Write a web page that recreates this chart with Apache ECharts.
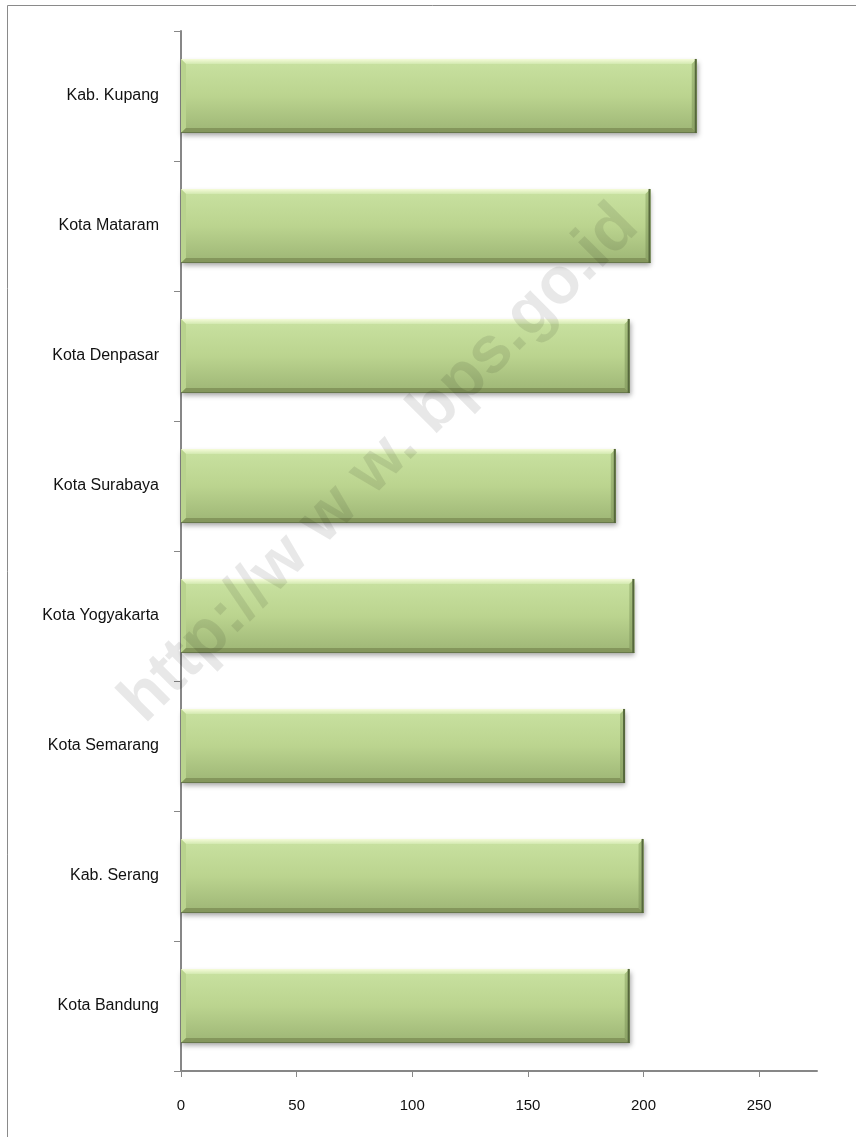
<!DOCTYPE html>
<html>
<head>
<meta charset="utf-8">
<script src="https://cdn.jsdelivr.net/npm/echarts@6/dist/echarts.min.js"></script>
<style>
  html, body { margin: 0; padding: 0; background: #ffffff; }
  #chart { width: 856px; height: 1137px; }
</style>
</head>
<body>
<div id="chart"></div>
<script>
// Regions, listed top to bottom
const categories = ['Kab. Kupang', 'Kota Mataram', 'Kota Denpasar', 'Kota Surabaya',
                    'Kota Yogyakarta', 'Kota Semarang', 'Kab. Serang', 'Kota Bandung'];
const values = [223, 203, 194, 188, 196, 192, 200, 194];
const xTicks = [0, 50, 100, 150, 200, 250];
const xMax = 275;
const watermark = 'http://w w w. bps.go.id';

const chart = echarts.init(document.getElementById('chart'), null, { renderer: 'canvas' });

// Bevelled bar: body with gradient, four bevel facets, dark right/bottom edge
function renderBar(params, api) {
  const cat = api.value(1);
  const start = api.coord([0, cat]);
  const end = api.coord([api.value(0), cat]);
  const h = api.size([0, 1])[1] * 0.57;
  const x0 = start[0], x1 = end[0];
  const y0 = start[1] - h / 2, y1 = start[1] + h / 2;
  const b = 5;
  return {
    type: 'group',
    children: [
      {
        type: 'rect',
        shape: { x: x0, y: y0, width: x1 - x0, height: h },
        style: {
          fill: new echarts.graphic.LinearGradient(0, 0, 0, 1, [
            { offset: 0, color: '#c9e2a1' },
            { offset: 0.5, color: '#bbd48f' },
            { offset: 1, color: '#9db575' }
          ]),
          shadowColor: 'rgba(0,0,0,0.35)', shadowBlur: 5, shadowOffsetX: 1, shadowOffsetY: 3
        }
      },
      { // top facet
        type: 'polygon',
        shape: { points: [[x0, y0], [x1, y0], [x1 - b, y0 + b], [x0 + b, y0 + b]] },
        style: {
          fill: new echarts.graphic.LinearGradient(0, 0, 0, 1, [
            { offset: 0, color: '#f6fcda' },
            { offset: 1, color: '#d3e9b0' }
          ])
        }
      },
      { // left facet
        type: 'polygon',
        shape: { points: [[x0, y0], [x0 + b, y0 + b], [x0 + b, y1 - b], [x0, y1]] },
        style: { fill: '#b9d38e' }
      },
      { // right facet
        type: 'polygon',
        shape: { points: [[x1, y0], [x1, y1], [x1 - b, y1 - b], [x1 - b, y0 + b]] },
        style: {
          fill: new echarts.graphic.LinearGradient(0, 0, 0, 1, [
            { offset: 0, color: '#a9c381' },
            { offset: 1, color: '#8ba265' }
          ])
        }
      },
      { // bottom facet
        type: 'polygon',
        shape: { points: [[x0, y1], [x1, y1], [x1 - b, y1 - b], [x0 + b, y1 - b]] },
        style: { fill: '#84965c' }
      },
      {
        type: 'line',
        shape: { x1: x0, y1: y1 - 0.5, x2: x1, y2: y1 - 0.5 },
        style: { stroke: '#66774a', lineWidth: 1 }
      },
      {
        type: 'line',
        shape: { x1: x1 - 1, y1: y0, x2: x1 - 1, y2: y1 },
        style: { stroke: '#56683c', lineWidth: 2 }
      }
    ]
  };
}

const axisGray = '#878787';

chart.setOption({
  backgroundColor: '#ffffff',
  animation: false,
  grid: { left: 181, right: 39, top: 31, bottom: 66, containLabel: false },
  xAxis: {
    type: 'value',
    min: 0,
    max: xMax,
    splitLine: { show: false },
    axisLine: { show: true, lineStyle: { color: axisGray, width: 2 } },
    axisTick: { show: true, length: 6, customValues: xTicks, lineStyle: { color: axisGray, width: 1 } },
    axisLabel: {
      customValues: xTicks,
      margin: 27,
      color: '#111111',
      fontFamily: '"Liberation Sans", Arial, sans-serif',
      fontSize: 15
    }
  },
  yAxis: {
    type: 'category',
    data: categories,
    inverse: true,
    boundaryGap: true,
    axisLine: { show: true, lineStyle: { color: axisGray, width: 2 } },
    axisTick: { show: true, length: 7, alignWithLabel: false, lineStyle: { color: axisGray, width: 1 } },
    axisLabel: {
      margin: 22,
      color: '#111111',
      fontFamily: '"Liberation Sans", Arial, sans-serif',
      fontSize: 16
    },
    splitLine: { show: false }
  },
  series: [{
    type: 'custom',
    renderItem: renderBar,
    encode: { x: 0, y: 1 },
    data: values.map((v, i) => [v, i]),
    z: 1
  }],
  graphic: [
    {
      type: 'rect',
      shape: { x: 7.5, y: 5.5, width: 900, height: 1200 },
      style: { fill: 'none', stroke: '#8a8a8a', lineWidth: 1 },
      silent: true,
      z: 0
    },
    {
      type: 'text',
      x: 380,
      y: 464,
      rotation: Math.PI / 4,
      style: {
        text: watermark,
        font: 'bold 66px "Liberation Sans", Arial, sans-serif',
        fill: 'rgba(0,0,0,0.09)',
        textAlign: 'center',
        textVerticalAlign: 'middle'
      },
      silent: true,
      z: 100
    }
  ]
});
</script>
</body>
</html>
